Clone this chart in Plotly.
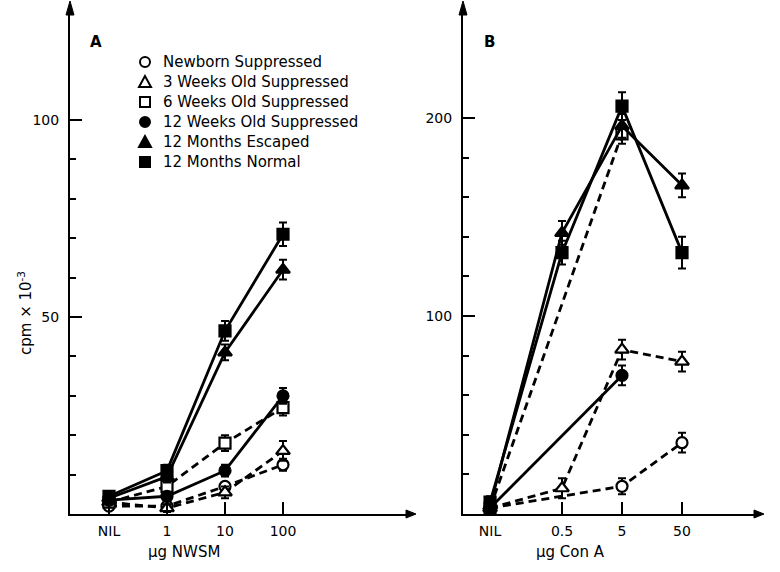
import math
import plotly.graph_objects as go

# ---------------- data ----------------
series_names = [
    "Newborn Suppressed",
    "3 Weeks Old Suppressed",
    "6 Weeks Old Suppressed",
    "12 Weeks Old Suppressed",
    "12 Months Escaped",
    "12 Months Normal",
]

# Panel A : NWSM dose (NIL, 1, 10, 100 ug)
a_doses = ["NIL", 1, 10, 100]
a_tick_labels = ["NIL", "1", "10", "100"]
a_newborn = [2.0, 2.0, 7.0, 12.5]
a_3wk = [3.0, 1.5, 5.5, 16.0]
a_6wk = [3.0, 7.0, 18.0, 27.0]
a_12wk = [3.5, 4.5, 11.0, 30.0]
a_esc = [4.0, 9.5, 41.0, 62.0]
a_norm = [4.5, 11.0, 46.5, 71.0]
a_err_newborn = [1.0, 1.0, 1.0, 1.5]
a_err_3wk = [1.0, 1.0, 1.5, 2.5]
a_err_6wk = [1.0, 1.0, 2.0, 2.0]
a_err_12wk = [1.0, 1.0, 1.5, 2.0]
a_err_esc = [1.0, 1.5, 2.0, 2.5]
a_err_norm = [1.0, 1.5, 2.5, 3.0]

# Panel B : Con A dose (NIL, 0.5, 5, 50 ug)
b_tick_doses = ["NIL", 0.5, 5, 50]
b_tick_labels = ["NIL", "0.5", "5", "50"]
b_newborn_dose = ["NIL", 5, 50]
b_newborn = [3.0, 14.0, 36.0]
b_3wk_dose = ["NIL", 0.5, 5, 50]
b_3wk = [3.0, 13.0, 83.0, 77.0]
b_6wk_dose = ["NIL", 5]
b_6wk = [3.0, 192.0]
b_12wk_dose = ["NIL", 5]
b_12wk = [3.0, 70.0]
b_esc_dose = ["NIL", 0.5, 5, 50]
b_esc = [4.0, 142.0, 196.0, 166.0]
b_norm_dose = ["NIL", 0.5, 5, 50]
b_norm = [6.0, 132.0, 206.0, 132.0]
b_err_newborn = [3, 4, 5]
b_err_3wk = [3, 5, 5, 5]
b_err_6wk = [3, 5]
b_err_12wk = [3, 5]
b_err_esc = [3, 6, 6, 6]
b_err_norm = [3, 6, 7, 8]

# ---------------- scales ----------------
A_NIL_POS = -1.0   # NIL plotted one decade left of 1 ug
B_NIL_POS = -1.5


def a_pos(d):
    return A_NIL_POS if d == "NIL" else math.log10(d)


def b_pos(d):
    return B_NIL_POS if d == "NIL" else math.log10(d)


W, H = 780, 572


def px_x(p):
    return p / W


def px_y(p):
    return (H - p) / H


BLACK = "#000000"
DASH = "8px,5px"
FONT = "DejaVu Sans, Liberation Sans, Arial, sans-serif"

styles = {
    "Newborn Suppressed": dict(symbol="circle", fill="white", dash=DASH),
    "3 Weeks Old Suppressed": dict(symbol="triangle-up", fill="white", dash=DASH),
    "6 Weeks Old Suppressed": dict(symbol="square", fill="white", dash=DASH),
    "12 Weeks Old Suppressed": dict(symbol="circle", fill=BLACK, dash="solid"),
    "12 Months Escaped": dict(symbol="triangle-up", fill=BLACK, dash="solid"),
    "12 Months Normal": dict(symbol="square", fill=BLACK, dash="solid"),
}
msize = {"circle": 11, "triangle-up": 12, "square": 11}

fig = go.Figure()


def add(name, xs, ys, errs, xa, ya):
    st = styles[name]
    fig.add_trace(go.Scatter(
        x=xs, y=ys, mode="lines+markers", showlegend=False, name=name,
        xaxis=xa, yaxis=ya,
        line=dict(color=BLACK, width=2.8, dash=st["dash"]),
        marker=dict(symbol=st["symbol"], size=msize[st["symbol"]], color=st["fill"],
                    line=dict(color=BLACK, width=2.2)),
        error_y=dict(type="data", array=errs, visible=True, color=BLACK,
                     thickness=2, width=4),
        cliponaxis=False,
    ))


a_x = [a_pos(d) for d in a_doses]
add("Newborn Suppressed", a_x, a_newborn, a_err_newborn, "x", "y")
add("3 Weeks Old Suppressed", a_x, a_3wk, a_err_3wk, "x", "y")
add("6 Weeks Old Suppressed", a_x, a_6wk, a_err_6wk, "x", "y")
add("12 Weeks Old Suppressed", a_x, a_12wk, a_err_12wk, "x", "y")
add("12 Months Escaped", a_x, a_esc, a_err_esc, "x", "y")
add("12 Months Normal", a_x, a_norm, a_err_norm, "x", "y")

add("Newborn Suppressed", [b_pos(d) for d in b_newborn_dose], b_newborn, b_err_newborn, "x2", "y2")
add("3 Weeks Old Suppressed", [b_pos(d) for d in b_3wk_dose], b_3wk, b_err_3wk, "x2", "y2")
add("6 Weeks Old Suppressed", [b_pos(d) for d in b_6wk_dose], b_6wk, b_err_6wk, "x2", "y2")
add("12 Weeks Old Suppressed", [b_pos(d) for d in b_12wk_dose], b_12wk, b_err_12wk, "x2", "y2")
add("12 Months Escaped", [b_pos(d) for d in b_esc_dose], b_esc, b_err_esc, "x2", "y2")
add("12 Months Normal", [b_pos(d) for d in b_norm_dose], b_norm, b_err_norm, "x2", "y2")

# ---------------- axes ----------------
y_bottom, y_top = 514, 9
a_px_per_unit = 3.94
b_px_per_unit = 1.98
a_px_per_dec = 58.0
b_px_per_dec = 60.0
A_left, A_right = 70, 410
B_left, B_right = 463, 758
A_one_px = 167
B_half_px = 562

ydom = [px_y(y_bottom), px_y(y_top)]

common_axis = dict(showgrid=False, zeroline=False, showline=True, linecolor=BLACK,
                   linewidth=2, ticks="inside", tickcolor=BLACK, tickwidth=2)
xfont = dict(family=FONT, size=14, color=BLACK)
yfont = dict(family=FONT, size=14, color=BLACK)

fig.update_layout(
    width=W, height=H,
    margin=dict(l=0, r=0, t=0, b=0),
    paper_bgcolor="white", plot_bgcolor="white",
    font=dict(family=FONT, color=BLACK),
    showlegend=False,
    xaxis=dict(common_axis, tickfont=xfont,
               domain=[px_x(A_left), px_x(A_right)],
               range=[(A_left - A_one_px) / a_px_per_dec, (A_right - A_one_px) / a_px_per_dec],
               tickmode="array", tickvals=[a_pos(d) for d in a_doses], ticktext=a_tick_labels,
               ticklen=12, anchor="y", ticklabelstandoff=3),
    yaxis=dict(common_axis, tickfont=yfont,
               domain=ydom, anchor="x",
               range=[0, (y_bottom - y_top) / a_px_per_unit],
               tickmode="array", tickvals=[50, 100], ticktext=["50", "100"], ticklen=12,
               minor=dict(tickmode="array", tickvals=[10, 20, 30, 40, 60, 70, 80, 90],
                          ticks="inside", ticklen=6, tickwidth=2, tickcolor=BLACK),
               ticklabelstandoff=6),
    xaxis2=dict(common_axis, tickfont=xfont,
                domain=[px_x(B_left), px_x(B_right)],
                range=[math.log10(0.5) + (B_left - B_half_px) / b_px_per_dec,
                       math.log10(0.5) + (B_right - B_half_px) / b_px_per_dec],
                tickmode="array", tickvals=[b_pos(d) for d in b_tick_doses], ticktext=b_tick_labels,
                ticklen=12, anchor="y2", ticklabelstandoff=3),
    yaxis2=dict(common_axis, tickfont=yfont,
                domain=ydom, anchor="x2",
                range=[0, (y_bottom - y_top) / b_px_per_unit],
                tickmode="array", tickvals=[100, 200], ticktext=["100", "200"], ticklen=12,
                minor=dict(tickmode="array", tickvals=[20, 40, 60, 80, 120, 140, 160, 180],
                           ticks="inside", ticklen=6, tickwidth=2, tickcolor=BLACK),
                ticklabelstandoff=6),
)


# arrow heads on the axes
def tri(x0, y0, x1, y1, x2, y2):
    return (f"M {px_x(x0)} {px_y(y0)} L {px_x(x1)} {px_y(y1)} "
            f"L {px_x(x2)} {px_y(y2)} Z")


shapes = []
for ax_x in (A_left, B_left):
    shapes.append(dict(type="path", xref="paper", yref="paper",
                       path=tri(ax_x, 1, ax_x - 4, y_top + 6, ax_x + 4, y_top + 6),
                       fillcolor=BLACK, line=dict(color=BLACK, width=1)))
for ax_r in (A_right, B_right):
    shapes.append(dict(type="path", xref="paper", yref="paper",
                       path=tri(ax_r + 6, y_bottom, ax_r - 4, y_bottom - 4, ax_r - 4, y_bottom + 4),
                       fillcolor=BLACK, line=dict(color=BLACK, width=1)))

# legend key (drawn in panel A)
LEG_MARK_X, LEG_TEXT_X, LEG_ROW0, LEG_DY, R = 145, 161, 62, 20, 5
annots = []
for i, name in enumerate(series_names):
    st = styles[name]
    cy = LEG_ROW0 + i * LEG_DY
    cx = LEG_MARK_X
    common = dict(xref="paper", yref="paper", fillcolor=st["fill"],
                  line=dict(color=BLACK, width=2))
    if st["symbol"] == "circle":
        shapes.append(dict(type="circle", x0=px_x(cx - R), x1=px_x(cx + R),
                           y0=px_y(cy + R), y1=px_y(cy - R), **common))
    elif st["symbol"] == "square":
        shapes.append(dict(type="rect", x0=px_x(cx - R), x1=px_x(cx + R),
                           y0=px_y(cy + R), y1=px_y(cy - R), **common))
    else:
        shapes.append(dict(type="path",
                           path=tri(cx, cy - R - 1, cx - R - 1, cy + R, cx + R + 1, cy + R),
                           **common))
    annots.append(dict(text=name, x=px_x(LEG_TEXT_X), y=px_y(cy), xref="paper", yref="paper",
                       xanchor="left", yanchor="middle", showarrow=False,
                       font=dict(size=15, family=FONT, color=BLACK)))

fig.update_layout(shapes=shapes)


def label(text, x, y, size=15, angle=0):
    return dict(text=text, x=px_x(x), y=px_y(y), xref="paper", yref="paper",
                xanchor="center", yanchor="middle", showarrow=False, textangle=angle,
                font=dict(size=size, family=FONT, color=BLACK))


annots += [
    label("<b>A</b>", 96, 42),
    label("<b>B</b>", 489, 42),
    label("cpm × 10<sup>-3</sup>", 25, 313, angle=-90),
    label("μg NWSM", 184, 552),
    label("μg Con A", 570, 552),
]
fig.update_layout(annotations=annots)

fig.write_html("out.html",
               config={"displayModeBar": False},
               post_script="document.body.style.margin='0px';document.body.style.overflow='hidden';")
